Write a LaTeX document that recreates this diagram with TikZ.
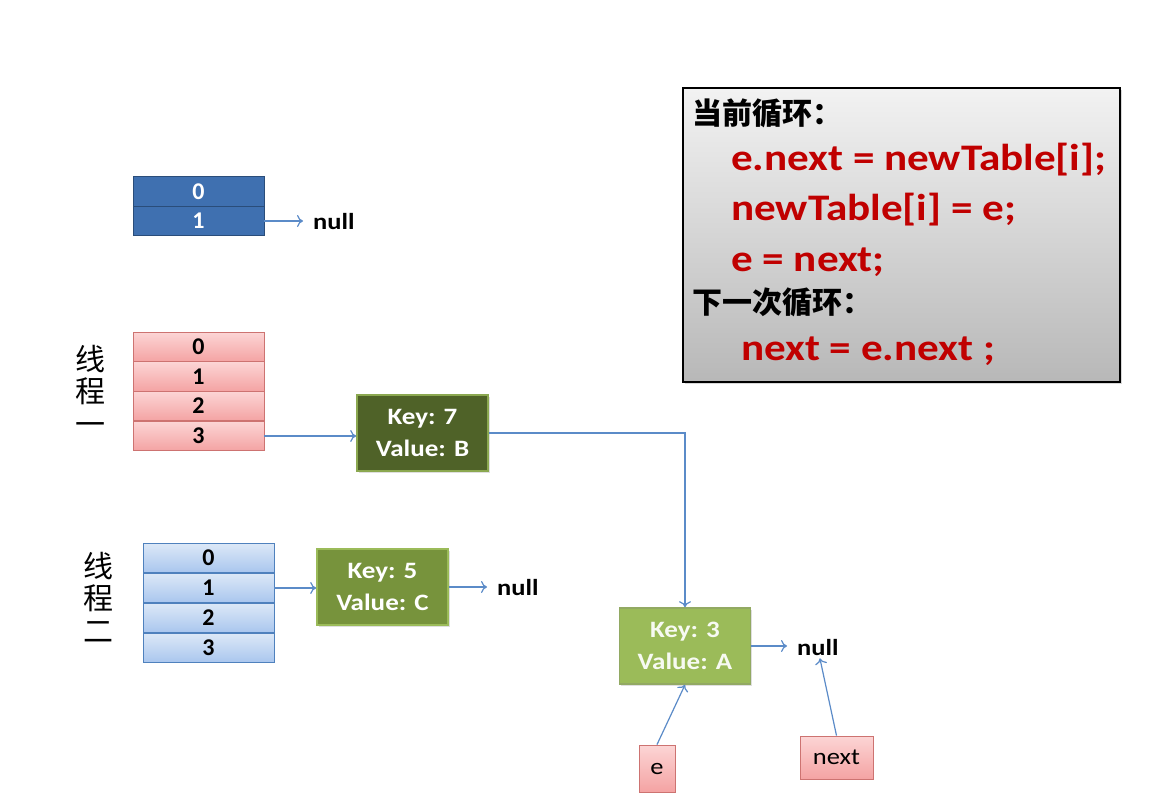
\documentclass[tikz,border=0pt]{standalone}
\usepackage{fontspec}
\setmainfont{Carlito}
\newfontfamily\wide[FakeStretch=1.15]{Carlito}
\newfontfamily\cjk{Noto Sans CJK SC}
\usetikzlibrary{arrows.meta,shadows}
\definecolor{arrowblue}{HTML}{5B8BC8}
\definecolor{darkblue}{HTML}{3F70B0}
\definecolor{darkblueline}{HTML}{2A4D7A}
\definecolor{pinktop}{HTML}{FCD5D5}
\definecolor{pinkbot}{HTML}{F4A3A3}
\definecolor{pinkline}{HTML}{C0504D}
\definecolor{ltbluetop}{HTML}{DCE8F7}
\definecolor{ltbluebot}{HTML}{A9C6EE}
\definecolor{ltblueline}{HTML}{4F81BD}
\definecolor{olivedark}{HTML}{4F6228}
\definecolor{olivemid}{HTML}{77933C}
\definecolor{olivelight}{HTML}{9BBB59}
\definecolor{codered}{HTML}{C00000}
\tikzset{
  x=1pt, y=-1pt,
  cellbase/.style={minimum width=131pt, minimum height=29.5pt, inner sep=0pt,
    font=\bfseries\fontsize{24}{24}\selectfont, line width=0.9pt},
  darkcell/.style={cellbase, fill=darkblue, draw=darkblueline, text=white},
  pinkcell/.style={cellbase, top color=pinktop, bottom color=pinkbot, draw=pinkline!80, text=black},
  bluecell/.style={cellbase, top color=ltbluetop, bottom color=ltbluebot, draw=ltblueline, text=black},
  entry/.style={minimum width=131pt, minimum height=76pt, inner sep=0pt, align=center,
    font=\wide\bfseries\fontsize{23.5}{32}\selectfont, line width=1.6pt},
  nullnode/.style={font=\wide\bfseries\fontsize{23}{23}\selectfont, inner xsep=10pt, inner ysep=2pt},
  varbox/.style={top color=pinktop, bottom color=pinkbot, draw=pinkline!80, line width=0.9pt,
    inner sep=0pt, font=\wide\fontsize{23}{23}\selectfont},
  thread/.style={font=\cjk\fontsize{30}{32.5}\selectfont, align=center, inner sep=0pt},
  link/.style={draw=arrowblue, line width=1.2pt, -{To[length=6pt,width=12pt]}},
  codeline/.style={anchor=base west, inner sep=0pt, text=codered, font=\wide\bfseries\fontsize{37.5}{37.5}\selectfont},
  codehead/.style={anchor=base west, inner sep=0pt, text=black, font=\cjk\bfseries\fontsize{30}{30}\selectfont},
}
\begin{document}
\begin{tikzpicture}
\useasboundingbox (0,0) rectangle (1164,803);
\fill[white] (0,0) rectangle (1164,803);

% top table
\node[darkcell] (a0) at (198.5,191.5) {0};
\node[darkcell] (a1) at (198.5,221) {1};
\node[nullnode, anchor=west] (anull) at (303,222) {null};
\draw[link] (a1.east) -- (a1.east -| anull.west);

% thread one
\node[pinkcell] (b0) at (198.5,347) {0};
\node[pinkcell] (b1) at (198.5,376.5) {1};
\node[pinkcell] (b2) at (198.5,406) {2};
\node[pinkcell] (b3) at (198.5,436) {3};
\node[thread] (t1) at (90,390) {线\\程\\一};

\node[entry, fill=olivedark, draw=olivelight!90!black, text=white, drop shadow={opacity=0.25,shadow xshift=1.5pt,shadow yshift=-1.5pt}] (k7) at (422.5,433) {Key: 7\\Value: B};
\draw[link] (b3.east) -- (b3.east -| k7.west);

% thread two
\node[bluecell] (c0) at (208.5,558) {0};
\node[bluecell] (c1) at (208.5,588) {1};
\node[bluecell] (c2) at (208.5,618) {2};
\node[bluecell] (c3) at (208.5,648) {3};
\node[thread] (t2) at (98,597) {线\\程\\二};

\node[entry, fill=olivemid, draw=olivelight, text=white, drop shadow={opacity=0.25,shadow xshift=1.5pt,shadow yshift=-1.5pt}] (k5) at (382.5,587) {Key: 5\\Value: C};
\draw[link] (c1.east) -- (c1.east -| k5.west);
\node[nullnode, anchor=west] (cnull) at (487,588) {null};
\draw[link] (k5.east) -- (k5.east -| cnull.west);

% moved entry
\node[entry, fill=olivelight, draw=olivemid!80, text=white!92!olivelight, drop shadow={opacity=0.25,shadow xshift=1.5pt,shadow yshift=-1.5pt}] (k3) at (685,646) {Key: 3\\Value: A};
\draw[link] (k7.east) -| (k3.north);
\node[nullnode, anchor=west] (dnull) at (787,648) {null};
\draw[link] (k3.east) -- (k3.east -| dnull.west);

\node[varbox, minimum width=36pt, minimum height=47pt] (e) at (657,768.5) {e};
\node[varbox, minimum width=73pt, minimum height=43pt] (nx) at (836.5,757.5) {next};
\draw[link] (e.north) -- (k3.south);
\draw[link] (nx.north) -- ([xshift=2pt]dnull.south);

% code box
\path[top color=white!95!black, bottom color=white!72!black, draw=black, line width=1.5pt,
  drop shadow={opacity=0.3,shadow xshift=2pt,shadow yshift=-2pt}]
  (683,88) rectangle (1120,382);
\node[codehead] (h1) at (692,124) {当前循环：};
\node[codeline] (l1) at (731,170) {e.next = newTable[i];};
\node[codeline] (l2) at (731,220) {newTable[i] = e;};
\node[codeline] (l3) at (731,271) {e = next;};
\node[codehead] (h2) at (692,313) {下一次循环：};
\node[codeline] (l4) at (741,360) {next = e.next ;};
\end{tikzpicture}
\end{document}
